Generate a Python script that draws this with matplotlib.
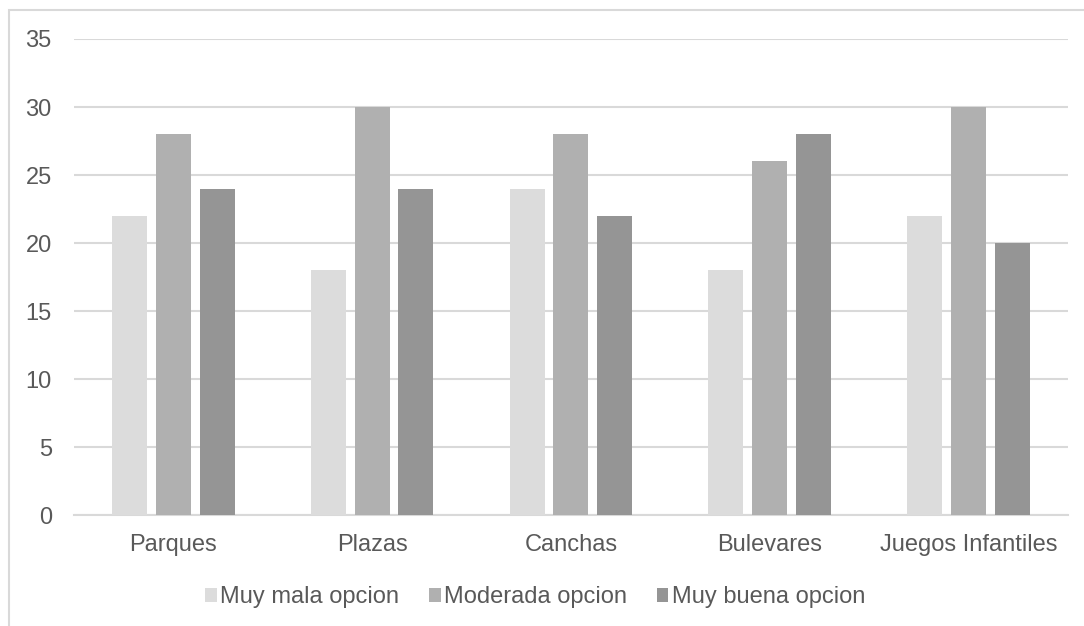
import matplotlib.pyplot as plt
import numpy as np
from matplotlib.patches import Rectangle

plt.rcParams['font.family'] = ['Liberation Sans', 'DejaVu Sans']

# datos
categorias = ['Parques', 'Plazas', 'Canchas', 'Bulevares', 'Juegos Infantiles']
muy_mala = [22, 18, 24, 18, 22]
moderada = [28, 30, 28, 26, 30]
muy_buena = [24, 24, 22, 28, 20]

series = ['Muy mala opcion', 'Moderada opcion', 'Muy buena opcion']
colores = ['#dcdcdc', '#b0b0b0', '#959595']
texto = '#595959'
linea = '#d9d9d9'

fig = plt.figure(figsize=(10.84, 6.26), dpi=100)
ax = fig.add_axes([0.0683, 0.1773, 0.9167, 0.7604])

x = np.arange(len(categorias))
ancho = 0.176
desplaz = 0.22
for i, (vals, nombre, col) in enumerate(zip([muy_mala, moderada, muy_buena], series, colores)):
    ax.bar(x + (i - 1) * desplaz, vals, width=ancho, color=col, label=nombre, zorder=3)

ax.set_xlim(-0.5, len(categorias) - 0.5)
ax.set_ylim(0, 35)
ax.set_yticks(range(0, 36, 5))
ax.set_xticks(x)
ax.set_xticklabels(categorias)
ax.yaxis.grid(True, color=linea, linewidth=1.5, zorder=0)
ax.tick_params(axis='both', length=0, labelsize=17, labelcolor=texto)
ax.tick_params(axis='x', pad=14)
ax.tick_params(axis='y', pad=16)
for lado in ['top', 'right', 'left']:
    ax.spines[lado].set_visible(False)
ax.spines['bottom'].set_color(linea)
ax.spines['bottom'].set_linewidth(1.5)

ax.legend(loc='upper center', bbox_to_anchor=(0.464, -0.105), ncol=3, frameon=False,
          fontsize=17, labelcolor=texto, handlelength=0.5, handleheight=0.5,
          handletextpad=0.15, columnspacing=1.25)

# borde del area del grafico
fig.add_artist(Rectangle((8.5 / 1084, -0.2), 1.2, 0.2 + 1 - 9.5 / 626,
                         transform=fig.transFigure, fill=False, edgecolor=linea, linewidth=1.5))

fig.savefig('out.png', dpi=100)
